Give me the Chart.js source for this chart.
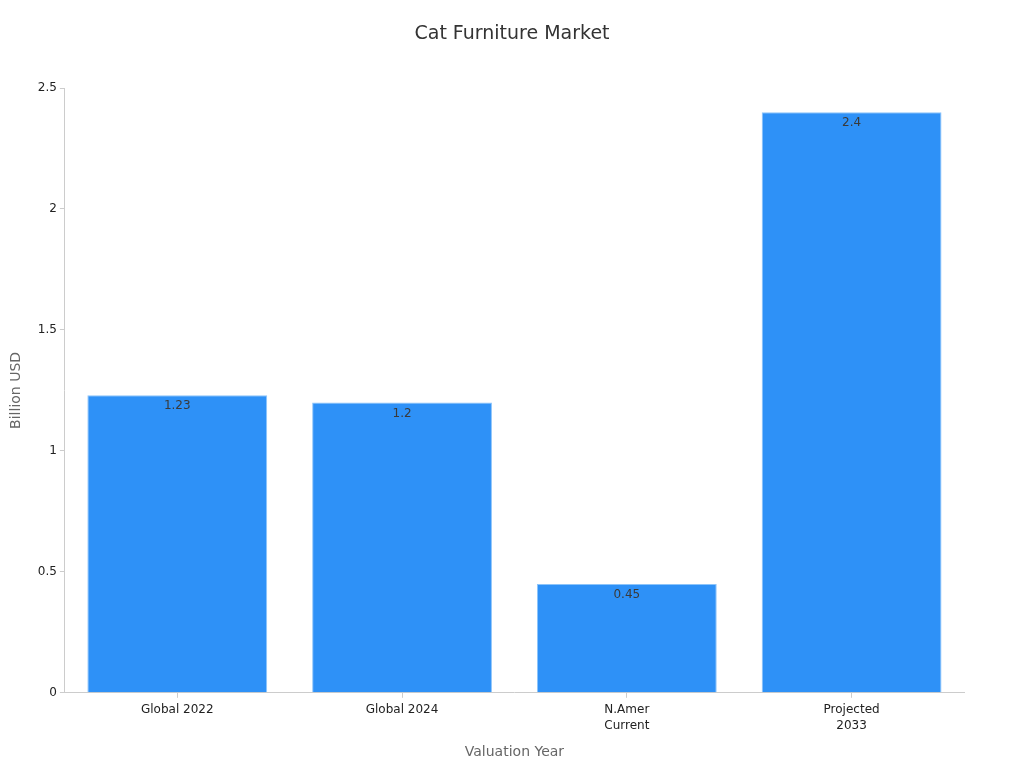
<!DOCTYPE html>
<html>
<head>
<meta charset="utf-8">
<script src="https://cdn.jsdelivr.net/npm/chart.js@4/dist/chart.umd.min.js"></script>
<style>
  html, body { margin: 0; padding: 0; background: #fff; }
  #wrap { width: 1024px; height: 768px; }
</style>
</head>
<body>
<div id="wrap"><canvas id="myChart" width="1024" height="768"></canvas></div>
<script>
// chart data
const chartTitle = 'Cat Furniture Market';
const categories = [['Global 2022'], ['Global 2024'], ['N.Amer', 'Current'], ['Projected', '2033']];
const values = [1.23, 1.2, 0.45, 2.4];
const yTicks = [0, 0.5, 1, 1.5, 2, 2.5];

Chart.defaults.font.family = 'DejaVu Sans';

// writes the value just inside the top of each bar, and the title centred on the page
const barLabels = {
    id: 'barLabels',
    afterDatasetsDraw(chart) {
        const ctx = chart.ctx;
        const meta = chart.getDatasetMeta(0);
        ctx.save();
        ctx.font = '12px DejaVu Sans';
        ctx.fillStyle = '#3a3a3a';
        ctx.textAlign = 'center';
        ctx.textBaseline = 'top';
        meta.data.forEach(function(bar, i) {
            ctx.fillText(String(values[i]), bar.x, bar.y + 5);
        });
        ctx.font = '19px DejaVu Sans';
        ctx.fillStyle = '#333';
        ctx.textBaseline = 'middle';
        ctx.fillText(chartTitle, chart.width / 2, 34);
        ctx.restore();
    }
};

const ctx = document.getElementById('myChart').getContext('2d');
const myChart = new Chart(ctx, {
    type: 'bar',
    data: {
        labels: categories,
        datasets: [{
            label: 'Billion USD',
            data: values,
            backgroundColor: 'rgb(46, 145, 247)',
            borderColor: 'rgb(140, 196, 250)',
            borderWidth: 1,
            barPercentage: 0.8,
            categoryPercentage: 1.0
        }]
    },
    options: {
        responsive: false,
        animation: false,
        layout: {
            padding: { left: 4, right: 60, top: 88, bottom: 3 }
        },
        plugins: {
            legend: { display: false },
            tooltip: { enabled: false },
            title: { display: false }
        },
        scales: {
            x: {
                grid: {
                    display: true,
                    drawOnChartArea: false,
                    offset: false,
                    color: '#ccc',
                    tickLength: 5
                },
                border: { color: '#ccc' },
                ticks: { color: '#222', font: { size: 12, lineHeight: 1.35 }, maxRotation: 0, padding: 4 },
                title: {
                    display: true,
                    text: 'Valuation Year',
                    color: '#666',
                    font: { size: 14 },
                    padding: { top: 6 }
                }
            },
            y: {
                min: 0,
                max: 2.5,
                afterBuildTicks: function(axis) {
                    axis.ticks = yTicks.map(function(v) { return { value: v }; });
                },
                grid: {
                    display: true,
                    drawOnChartArea: false,
                    color: '#ccc',
                    tickLength: 5
                },
                border: { color: '#ccc' },
                ticks: {
                    color: '#222',
                    font: { size: 12 },
                    padding: 3,
                    callback: function(v) { return String(v); }
                },
                title: {
                    display: true,
                    text: 'Billion USD',
                    color: '#666',
                    font: { size: 14 },
                    padding: { bottom: 10 }
                }
            }
        }
    },
    plugins: [barLabels]
});
</script>
</body>
</html>
